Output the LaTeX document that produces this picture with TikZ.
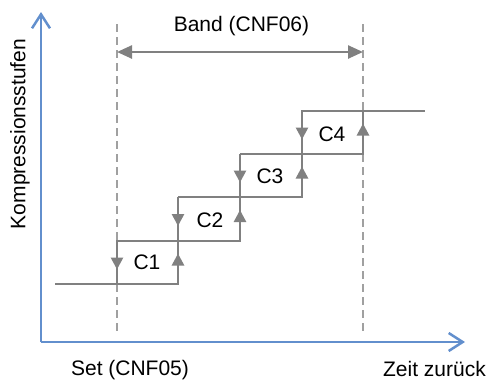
\documentclass[tikz,border=0pt]{standalone}
\usepackage{fontspec}
\setmainfont{Liberation Sans}
\usetikzlibrary{arrows.meta}
\definecolor{axisblue}{RGB}{98,143,205}
\definecolor{stepgray}{RGB}{128,128,128}
\definecolor{dashgray}{RGB}{160,160,160}
\tikzset{
  lbl/.style={inner sep=0pt, font=\fontsize{21}{24}\selectfont, text=black},
  axisline/.style={draw=axisblue, line width=2.7pt, -{Straight Barb[length=14pt,width=18pt,line width=2.5pt]}},
  stepline/.style={draw=stepgray, line width=2.6pt},
  dashline/.style={draw=dashgray, line width=2.5pt, dash pattern=on 8pt off 5pt},
  bandarrow/.style={draw=stepgray, line width=2.5pt, {Triangle[length=15pt,width=13pt]}-{Triangle[length=15pt,width=13pt]}},
  tri/.style={draw=stepgray, line width=2.6pt, -{Triangle[length=12pt,width=12pt]}}
}
\begin{document}
\begin{tikzpicture}[x=1pt,y=-1pt]
\useasboundingbox (0,0) rectangle (488,381);
% coordinates
\coordinate (o) at (41,342);
\coordinate (ytop) at (41,12);
\coordinate (xend) at (465,342);
\coordinate (dlt) at (117,24);
\coordinate (dlb) at (117,335);
\coordinate (drt) at (363,24);
\coordinate (drb) at (363,335);
\coordinate (bl) at (117,52);
\coordinate (br) at (363,52);
% dashed lines
\draw[dashline] (dlt) -- (dlb);
\draw[dashline] (drt) -- (drb);
% band
\draw[bandarrow] (bl) -- (br);
\node[lbl] (band) at (241.5,26) {Band (CNF06)};
% steps
\coordinate (s0) at (55,284);
\draw[stepline] (s0) -- (178,284) -- (178,197);
\draw[stepline] (117,284) -- (117,241) -- (240,241) -- (240,154);
\draw[stepline] (178,197) -- (302,197) -- (302,111) -- (425,111);
\draw[stepline] (240,154) -- (363,154) -- (363,111);
% arrows
\foreach \xl/\xr/\m in {117/178/262.5, 178/240/219, 240/302/175.5, 302/363/132.5}{
  \draw[tri] (\xl,\m-6) -- (\xl,\m+7);
  \draw[tri] (\xr,\m+4) -- (\xr,\m-9);
}
\node[lbl] (c1) at (147,262.5) {C1};
\node[lbl] (c2) at (210,220.5) {C2};
\node[lbl] (c3) at (270,176.5) {C3};
\node[lbl] (c4) at (332,134.5) {C4};
% axes
\draw[axisline] (o) -- (ytop);
\draw[axisline] (o) -- (xend);
\node[lbl, rotate=90] (ylab) at (20,134) {Kompressionsstufen};
\node[lbl] (set) at (130,370) {Set (CNF05)};
\node[lbl] (zeit) at (434.5,368.5) {Zeit zurück};
\end{tikzpicture}
\end{document}
